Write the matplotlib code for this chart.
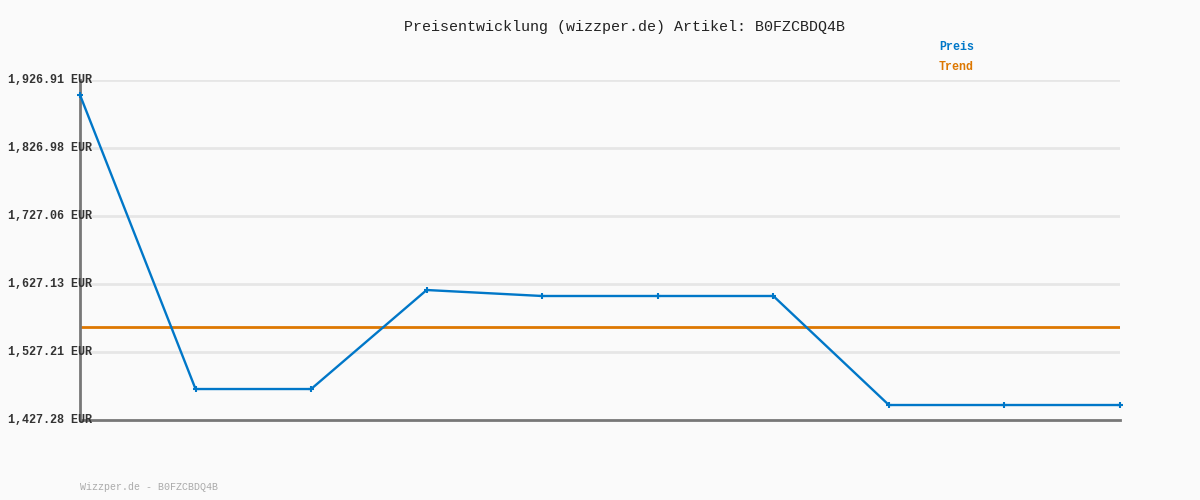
import matplotlib.pyplot as plt
from matplotlib.transforms import blended_transform_factory

# Werte
preise = [1904.9, 1472.8, 1472.8, 1618.3, 1609.5, 1609.5, 1609.5, 1449.3, 1449.3, 1449.3]
trend = 1564.0
y_ticks = [1427.28, 1527.21, 1627.13, 1727.06, 1826.98, 1926.91]
y_labels = ['1,427.28 EUR', '1,527.21 EUR', '1,627.13 EUR', '1,727.06 EUR', '1,826.98 EUR', '1,926.91 EUR']
artikel = 'B0FZCBDQ4B'

mono = ['Liberation Mono', 'DejaVu Sans Mono']
bg = '#fafafa'
blau = '#0077c8'
orange = '#dd7700'

fig = plt.figure(figsize=(12, 5), dpi=100, facecolor=bg)
ax = fig.add_axes([80 / 1200, 1 - 420 / 500, 1040 / 1200, 340 / 500], facecolor=bg)

x = list(range(len(preise)))
ax.set_xlim(0, len(preise) - 1)
ax.set_ylim(y_ticks[0], y_ticks[-1])

# Gitterlinien
for t in y_ticks[1:]:
    ax.axhline(t, color='#e6e6e6', lw=2, zorder=1)

ax.axhline(trend, color=orange, lw=2, zorder=2)
ax.plot(x, preise, color=blau, lw=1.7, marker='+', ms=5, mew=1.5, zorder=3, clip_on=False)

for s in ['top', 'right']:
    ax.spines[s].set_visible(False)
for s in ['left', 'bottom']:
    ax.spines[s].set_color('#777777')
    ax.spines[s].set_linewidth(2)
ax.set_xticks([])
ax.set_yticks([])

# Achsenbeschriftung links
tr = blended_transform_factory(fig.transFigure, ax.transData)
for t, lab in zip(y_ticks, y_labels):
    ax.text(8 / 1200, t, lab, transform=tr, ha='left', va='center', fontsize=8.5,
            family=mono, fontweight='bold', color='#333333', zorder=5)

fig.text(624 / 1200, 1 - 27 / 500, 'Preisentwicklung (wizzper.de) Artikel: ' + artikel,
         ha='center', va='center', fontsize=10.8, family=mono, color='#222222')
fig.text(939 / 1200, 1 - 47 / 500, 'Preis', ha='left', va='center', fontsize=8.4,
         family=mono, fontweight='bold', color=blau)
fig.text(939 / 1200, 1 - 67 / 500, 'Trend', ha='left', va='center', fontsize=8.4,
         family=mono, fontweight='bold', color=orange)
fig.text(80 / 1200, 1 - 487 / 500, 'Wizzper.de - ' + artikel, ha='left', va='center',
         fontsize=7.2, family=mono, color='#aaaaaa')

fig.savefig('out.png', facecolor=bg)
